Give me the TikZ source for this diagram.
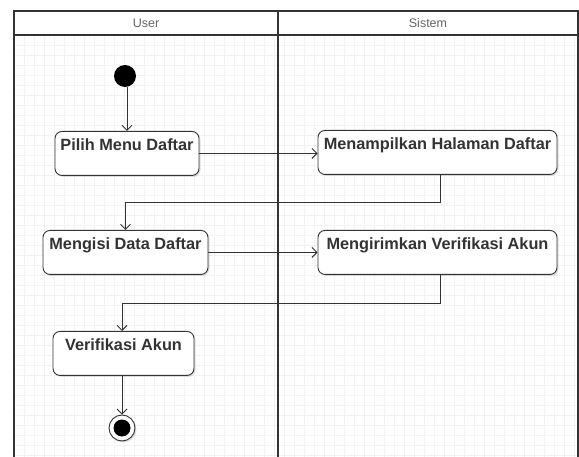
\documentclass[tikz,border=0pt]{standalone}
\usepackage{fontspec}
\setmainfont{Liberation Sans}
\usetikzlibrary{arrows.meta,shadows,calc}
\definecolor{ink}{HTML}{333333}
\definecolor{gridc}{HTML}{F2F2F2}
\tikzset{
  act/.style={draw=ink, line width=0.9pt, fill=white, rounded corners=7pt,
    inner xsep=3pt, inner ysep=0pt, text height=19pt, text depth=25pt,
    font=\bfseries\fontsize{16.3}{18}\selectfont, text=ink,
    drop shadow={shadow xshift=1.5pt, shadow yshift=-1.5pt, opacity=0.25, fill=gray}},
  flow/.style={draw=ink, line width=0.9pt, -{Straight Barb[length=5pt,width=10pt]}},
  lane/.style={draw=ink, line width=1.8pt},
  head/.style={font=\fontsize{12.5}{14}\selectfont, text=black!60}
}
\begin{document}
\begin{tikzpicture}[x=1pt,y=-1pt]
  \useasboundingbox (0,0) rectangle (579,457);
  \fill[white] (0,0) rectangle (579,457);
  % background grid inside the lanes
  \foreach \gx in {24,34,...,574} \draw[gridc, line width=0.6pt] (\gx,35) -- (\gx,457);
  \foreach \gy in {45,55,...,455} \draw[gridc, line width=0.6pt] (14,\gy) -- (578,\gy);
  % swimlanes
  \draw[lane] (14,457) -- (14,11) -- (578,11) -- (578,457);
  \draw[lane] (14,35) -- (578,35);
  \draw[lane] (278,11) -- (278,457);
  \node[head] (hu) at (146,23) {User};
  \node[head] (hs) at (428,23) {Sistem};
  % start and end
  \node[circle, fill=black, minimum size=22pt, inner sep=0pt] (start) at (125,76) {};
  \node[circle, draw=ink, line width=0.9pt, fill=white, minimum size=26pt, inner sep=0pt,
        drop shadow={shadow xshift=1.5pt, shadow yshift=-1.5pt, opacity=0.25, fill=gray}] (stop) at (122,428) {};
  \node[circle, fill=black, minimum size=17pt, inner sep=0pt] (stopin) at (stop.center) {};
  % activities
  \node[act, minimum width=144pt] (pilih) at (127,131) [anchor=north] {Pilih Menu Daftar};
  \node[act, minimum width=239pt] (tampil) at (437.5,130) [anchor=north] {Menampilkan Halaman Daftar};
  \node[act, minimum width=165pt] (isi) at (125.5,230) [anchor=north] {Mengisi Data Daftar};
  \node[act, minimum width=239pt] (kirim) at (437.5,230) [anchor=north] {Mengirimkan Verifikasi Akun};
  \node[act, minimum width=141pt] (verif) at (123.5,331) [anchor=north] {Verifikasi Akun};
  % flows
  \draw[flow] (start.south -| pilih.north) -- (pilih.north);
  \draw[flow] (pilih.east) -- (pilih.east -| tampil.west);
  \draw[flow] ([xshift=2.5pt]tampil.south) |- ($(isi.north)+(0,-28)$) -- (isi.north);
  \draw[flow] (isi.east) -- (isi.east -| kirim.west);
  \draw[flow] ([xshift=2.5pt]kirim.south) |- ($([xshift=-1.5pt]verif.north)+(0,-28)$) -- ([xshift=-1.5pt]verif.north);
  \draw[flow] ([xshift=-1.5pt]verif.south) -- (stop.north);
\end{tikzpicture}
\end{document}
